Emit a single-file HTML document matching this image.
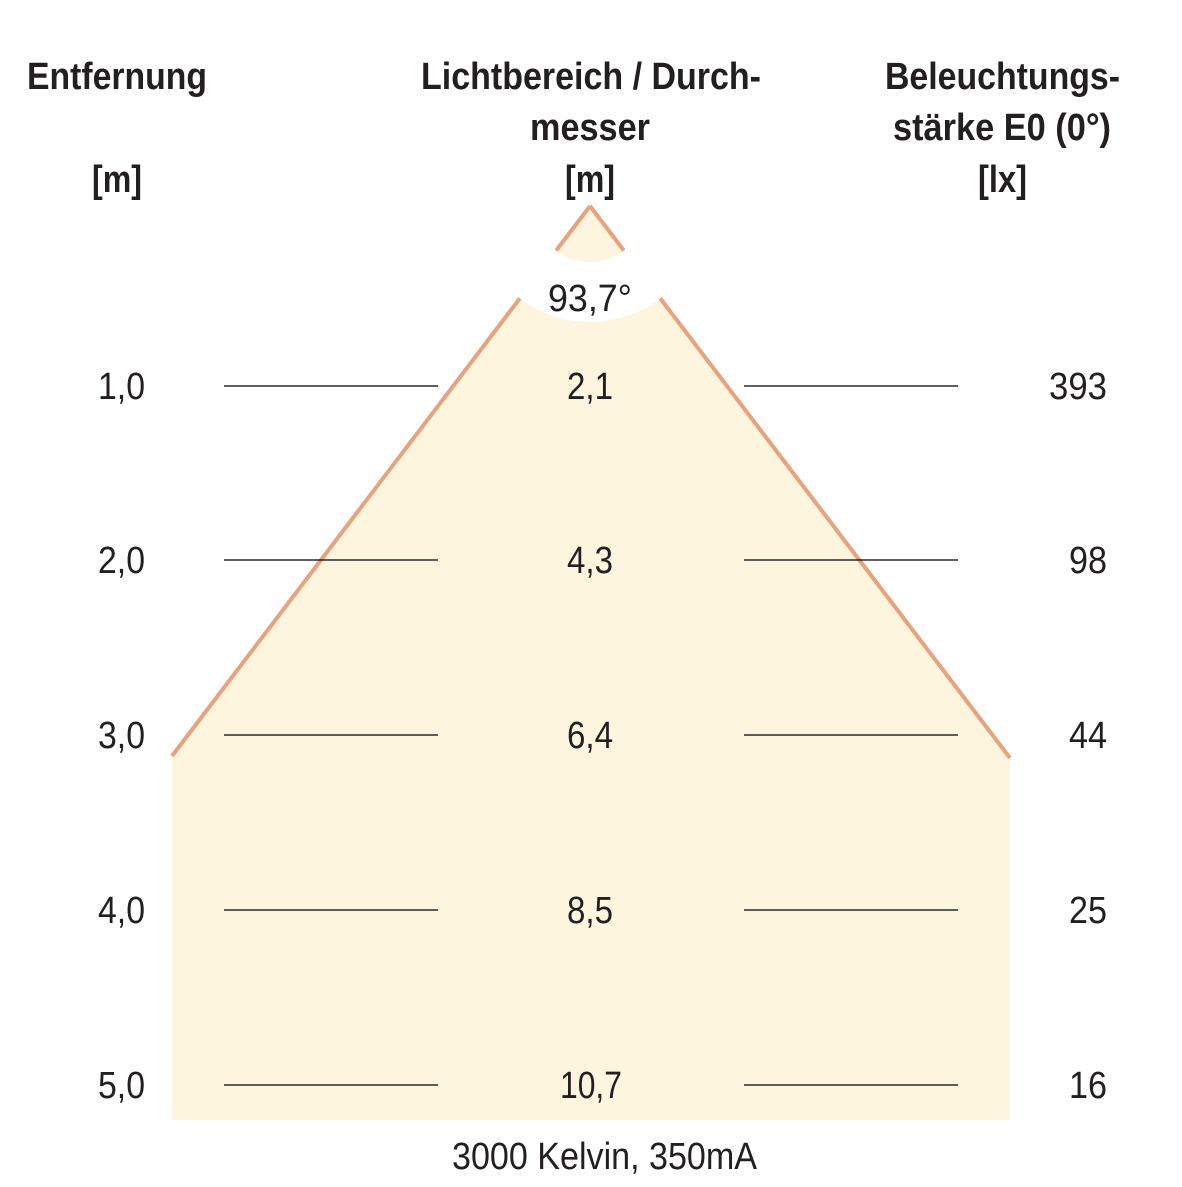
<!DOCTYPE html>
<html><head><meta charset="utf-8"><style>html,body{margin:0;padding:0;background:#fff}</style></head>
<body>
<svg width="1182" height="1182" viewBox="0 0 1182 1182" xmlns="http://www.w3.org/2000/svg" font-family="Liberation Sans, Arial, sans-serif">
<polygon points="590,206 172,756 172,1120 1010,1120 1010,758" fill="#fdf5de"/>
<line x1="590" y1="206" x2="172" y2="756" stroke="#e8a37c" stroke-width="4"/>
<line x1="590" y1="206" x2="1010" y2="758" stroke="#e8a37c" stroke-width="4"/>
<circle cx="590" cy="206" r="86" fill="none" stroke="#fff" stroke-width="60"/>
<g stroke="#000" stroke-width="1.2">
<line x1="224" y1="386" x2="438" y2="386"/><line x1="744" y1="386" x2="958" y2="386"/>
<line x1="224" y1="560" x2="438" y2="560"/><line x1="744" y1="560" x2="958" y2="560"/>
<line x1="224" y1="735" x2="438" y2="735"/><line x1="744" y1="735" x2="958" y2="735"/>
<line x1="224" y1="910" x2="438" y2="910"/><line x1="744" y1="910" x2="958" y2="910"/>
<line x1="224" y1="1085" x2="438" y2="1085"/><line x1="744" y1="1085" x2="958" y2="1085"/>
</g>
<g font-weight="bold" font-size="38" fill="#231f20">
<text x="27" y="89" textLength="180" lengthAdjust="spacingAndGlyphs">Entfernung</text>
<text x="92" y="192" textLength="50" lengthAdjust="spacingAndGlyphs">[m]</text>
<text x="421" y="89" textLength="340" lengthAdjust="spacingAndGlyphs">Lichtbereich / Durch-</text>
<text x="530" y="140" textLength="120" lengthAdjust="spacingAndGlyphs">messer</text>
<text x="565" y="192" textLength="50" lengthAdjust="spacingAndGlyphs">[m]</text>
<text x="885" y="89" textLength="235" lengthAdjust="spacingAndGlyphs">Beleuchtungs-</text>
<text x="893" y="140" textLength="218" lengthAdjust="spacingAndGlyphs">stärke E0 (0°)</text>
<text x="978" y="192" textLength="49" lengthAdjust="spacingAndGlyphs">[lx]</text>
</g>
<g font-size="38" fill="#231f20">
<text x="548" y="311" textLength="84" lengthAdjust="spacingAndGlyphs">93,7°</text>
<text x="98" y="399" textLength="47" lengthAdjust="spacingAndGlyphs">1,0</text>
<text x="98" y="573" textLength="47" lengthAdjust="spacingAndGlyphs">2,0</text>
<text x="98" y="748" textLength="47" lengthAdjust="spacingAndGlyphs">3,0</text>
<text x="98" y="923" textLength="47" lengthAdjust="spacingAndGlyphs">4,0</text>
<text x="98" y="1098" textLength="47" lengthAdjust="spacingAndGlyphs">5,0</text>
<text x="567" y="399" textLength="46" lengthAdjust="spacingAndGlyphs">2,1</text>
<text x="567" y="573" textLength="46" lengthAdjust="spacingAndGlyphs">4,3</text>
<text x="567" y="748" textLength="46" lengthAdjust="spacingAndGlyphs">6,4</text>
<text x="567" y="923" textLength="46" lengthAdjust="spacingAndGlyphs">8,5</text>
<text x="560" y="1098" textLength="62" lengthAdjust="spacingAndGlyphs">10,7</text>
<text x="1049" y="399" textLength="58" lengthAdjust="spacingAndGlyphs">393</text>
<text x="1069" y="573" textLength="38" lengthAdjust="spacingAndGlyphs">98</text>
<text x="1069" y="748" textLength="38" lengthAdjust="spacingAndGlyphs">44</text>
<text x="1069" y="923" textLength="38" lengthAdjust="spacingAndGlyphs">25</text>
<text x="1069" y="1098" textLength="38" lengthAdjust="spacingAndGlyphs">16</text>
<text x="452" y="1169" textLength="305" lengthAdjust="spacingAndGlyphs">3000 Kelvin, 350mA</text>
</g>
</svg>
</body></html>
